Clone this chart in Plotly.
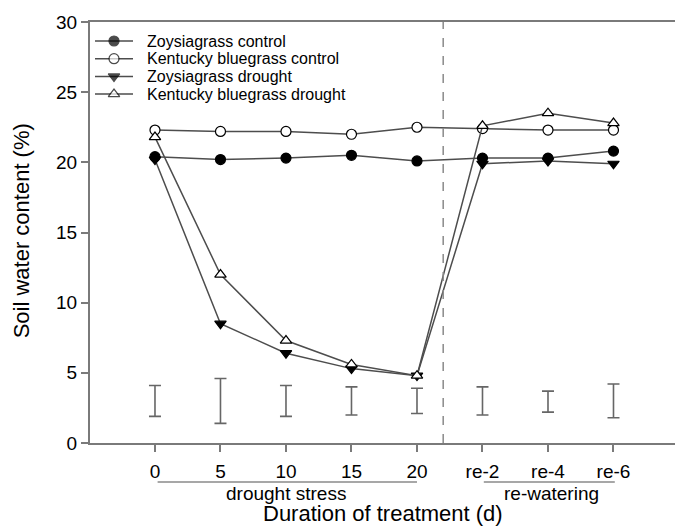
import plotly.graph_objects as go

# Sampling days: five drought-stress days then three re-watering days
days = ["0", "5", "10", "15", "20", "re-2", "re-4", "re-6"]
pos = list(range(len(days)))

zoysia_control = [20.4, 20.2, 20.3, 20.5, 20.1, 20.3, 20.3, 20.8]
kentucky_control = [22.3, 22.2, 22.2, 22.0, 22.5, 22.4, 22.3, 22.3]
zoysia_drought = [20.2, 8.5, 6.4, 5.3, 4.8, 19.9, 20.1, 19.9]
kentucky_drought = [21.8, 12.0, 7.3, 5.6, 4.8, 22.6, 23.5, 22.8]

# LSD bars (lower and upper ends)
lsd_low = [1.9, 1.4, 1.9, 2.0, 2.1, 2.0, 2.2, 1.8]
lsd_high = [4.1, 4.6, 4.1, 4.0, 3.9, 4.0, 3.7, 4.2]

FONT = "Liberation Sans, Arial, sans-serif"
LINE = "#4d4d4d"
AXIS = "#7a7a7a"

series = [
    ("Zoysiagrass control", zoysia_control, "circle", "black"),
    ("Kentucky bluegrass control", kentucky_control, "circle", "white"),
    ("Zoysiagrass drought", zoysia_drought, "triangle-down", "black"),
    ("Kentucky bluegrass drought", kentucky_drought, "triangle-up", "white"),
]

fig = go.Figure()

for name, vals, sym, fill in series:
    fig.add_trace(go.Scatter(
        x=pos, y=vals, name=name, mode="lines+markers", showlegend=False,
        line=dict(color=LINE, width=1.5),
        marker=dict(symbol=sym, size=10, color=fill,
                    line=dict(color="black", width=1.2)),
    ))

mid = [(lo + hi) / 2 for lo, hi in zip(lsd_low, lsd_high)]
fig.add_trace(go.Scatter(
    x=pos, y=mid, mode="markers", showlegend=False, hoverinfo="skip",
    marker=dict(size=1, opacity=0),
    error_y=dict(type="data", symmetric=True,
                 array=[hi - m for hi, m in zip(lsd_high, mid)],
                 color="#666666", thickness=1.6, width=6),
))

# Compact legend drawn on a hidden overlay axis (units = pixels from the
# plot's left edge / top edge)
LEG_ROW0, LEG_STEP = 19, 17.7
for i, (name, vals, sym, fill) in enumerate(series):
    yy = LEG_ROW0 + i * LEG_STEP
    fig.add_trace(go.Scatter(
        x=[5, 24, 43], y=[yy, yy, yy], xaxis="x2", yaxis="y2",
        mode="lines+markers", showlegend=False, hoverinfo="skip",
        line=dict(color=LINE, width=1.5),
        marker=dict(symbol=sym, size=[0, 10, 0], color=fill,
                    line=dict(color="black", width=[0, 1.2, 0])),
    ))
    fig.add_annotation(x=55, y=yy, xref="x2", yref="y2", text=name,
                       showarrow=False, xanchor="left", yanchor="middle",
                       font=dict(family=FONT, size=16, color="black"))

# Divider between drought stress and re-watering
fig.add_shape(type="line", xref="x", yref="paper", x0=4.4, x1=4.4, y0=0, y1=1,
              line=dict(color="#8a8a8a", width=1.5, dash="dash"))

# Phase brackets under the tick labels
for x0, x1, label, xc in [(0.04, 4.0, "drought stress", 2.0),
                          (5.02, 7.02, "re-watering", 6.05)]:
    fig.add_shape(type="line", xref="x", yref="paper", x0=x0, x1=x1,
                  y0=-0.0926, y1=-0.0926, line=dict(color="#8a8a8a", width=1.5))
    fig.add_annotation(x=xc, y=-0.12, xref="x", yref="paper", text=label,
                       showarrow=False, yanchor="middle",
                       font=dict(family=FONT, size=19, color="black"))

fig.add_annotation(x=0.5, y=-0.168, xref="paper", yref="paper",
                   text="Duration of treatment (d)", showarrow=False,
                   yanchor="middle", font=dict(family=FONT, size=22, color="black"))
fig.add_annotation(x=-0.118, y=0.505, xref="paper", yref="paper",
                   text="Soil water content (%)", showarrow=False, textangle=-90,
                   xanchor="center", font=dict(family=FONT, size=22, color="black"))

fig.update_layout(
    width=675, height=527,
    margin=dict(l=90, r=0, t=22, b=84),
    paper_bgcolor="white", plot_bgcolor="white",
    font=dict(family=FONT, color="black"),
    showlegend=False,
    xaxis=dict(range=[-0.992, 7.939], tickmode="array", tickvals=pos, ticktext=days,
               showgrid=False, zeroline=False, showline=True, linecolor=AXIS,
               linewidth=2, mirror=True, ticks="outside", ticklen=7,
               tickcolor=AXIS, tickwidth=1.5, ticklabelstandoff=3,
               tickfont=dict(family=FONT, size=19, color="black")),
    yaxis=dict(range=[0, 30], tickvals=[0, 5, 10, 15, 20, 25, 30],
               showgrid=False, zeroline=False, showline=True, linecolor=AXIS,
               linewidth=2, ticks="outside", ticklen=7, tickcolor=AXIS,
               tickwidth=1.5, tickfont=dict(family=FONT, size=19, color="black")),
    xaxis2=dict(overlaying="x", range=[0, 585], visible=False, anchor="y2"),
    yaxis2=dict(overlaying="y", range=[421, 0], visible=False, anchor="x2"),
)

fig.write_html("out.html")
